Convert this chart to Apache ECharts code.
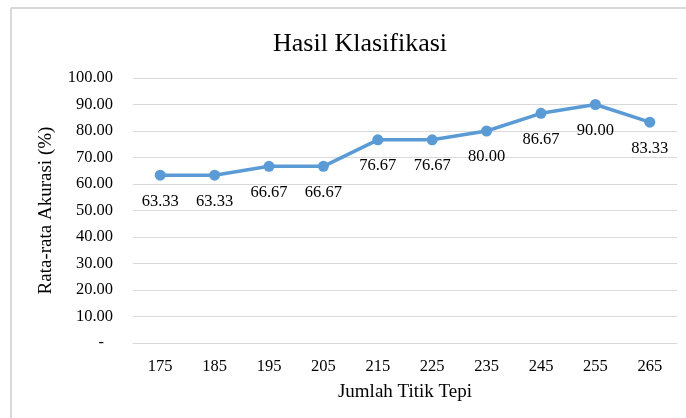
<!DOCTYPE html>
<html>
<head>
<meta charset="utf-8">
<script src="https://cdn.jsdelivr.net/npm/echarts@6/dist/echarts.min.js"></script>
<style>html,body{margin:0;padding:0;background:#fff}#c{width:686px;height:418px}</style>
</head>
<body>
<div id="c"></div>
<script>
const categories = ['175','185','195','205','215','225','235','245','255','265'];
const accuracy = [63.33, 63.33, 66.67, 66.67, 76.67, 76.67, 80.00, 86.67, 90.00, 83.33];
const titleText = 'Hasil Klasifikasi';
const xName = 'Jumlah Titik Tepi';
const yName = 'Rata-rata Akurasi (%)';

const serif = '"Liberation Serif", "Times New Roman", serif';
const chart = echarts.init(document.getElementById('c'), null, {renderer: 'canvas'});
chart.setOption({
  animation: false,
  backgroundColor: '#fff',
  title: {
    text: titleText, left: 268, top: 26,
    textStyle: {fontFamily: serif, fontSize: 26, fontWeight: 'normal', color: '#000'}
  },
  graphic: [
    {type: 'line', shape: {x1: 11, y1: 8, x2: 686, y2: 8}, style: {stroke: '#D9D9D9', lineWidth: 2}},
    {type: 'line', shape: {x1: 11, y1: 8, x2: 11, y2: 418}, style: {stroke: '#D9D9D9', lineWidth: 2}}
  ],
  grid: {left: 133, right: 9, top: 78, bottom: 75},
  xAxis: {
    type: 'category', data: categories,
    name: xName, nameLocation: 'middle', nameGap: 40,
    nameTextStyle: {fontFamily: serif, fontSize: 19, color: '#000'},
    axisLine: {show: true, lineStyle: {color: '#D9D9D9'}},
    axisTick: {show: false},
    axisLabel: {fontFamily: serif, fontSize: 16.5, color: '#000', margin: 15}
  },
  yAxis: {
    type: 'value', min: 0, max: 100, interval: 10,
    name: yName, nameLocation: 'middle', nameGap: 77, nameRotate: 90,
    nameTextStyle: {fontFamily: serif, fontSize: 19, color: '#000'},
    axisLine: {show: false}, axisTick: {show: false},
    splitLine: {lineStyle: {color: '#D9D9D9', width: 1}},
    axisLabel: {
      fontFamily: serif, fontSize: 16.5, color: '#000', margin: 20,
      formatter: v => v === 0 ? '{d|-}' : v.toFixed(2),
      rich: {d: {fontFamily: serif, fontSize: 16.5, color: '#000', padding: [0, 9, 0, 0]}}
    }
  },
  series: [{
    type: 'line', data: accuracy,
    symbol: 'circle', symbolSize: 11,
    lineStyle: {color: '#5B9BD5', width: 3.5},
    itemStyle: {color: '#5B9BD5'},
    label: {
      show: true, position: 'bottom', distance: 12,
      fontFamily: serif, fontSize: 16.5, color: '#000',
      formatter: p => p.value.toFixed(2)
    }
  }]
});
</script>
</body>
</html>
